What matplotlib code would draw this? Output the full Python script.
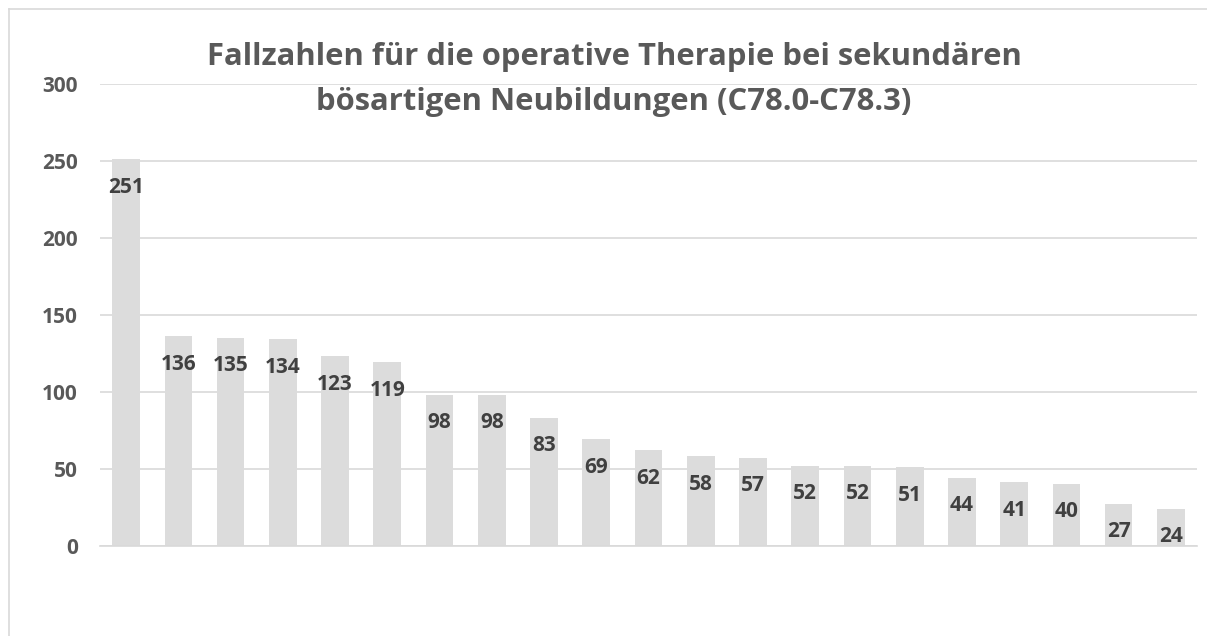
import numpy as np
import matplotlib.pyplot as plt
from matplotlib.lines import Line2D

# values, in bar order
werte = [251, 136, 135, 134, 123, 119, 98, 98, 83, 69, 62,
         58, 57, 52, 52, 51, 44, 41, 40, 27, 24]
y_ticks = [0, 50, 100, 150, 200, 250, 300]
titel_1 = "Fallzahlen für die operative Therapie bei sekundären"
titel_2 = "bösartigen Neubildungen (C78.0-C78.3)"

plt.rcParams['font.family'] = ['Open Sans', 'DejaVu Sans']

W, H = 1207, 636
fig = plt.figure(figsize=(W / 100, H / 100), dpi=100)
fig.patch.set_facecolor('white')

# axes placed in pixels
left, right, top0, bot0 = 100, 1197, 84, 545.5
ax = fig.add_axes([left / W, 1 - bot0 / H, (right - left) / W, (bot0 - top0) / H])

x = np.arange(len(werte))
ax.bar(x, werte, width=0.53, color='#dcdcdc', zorder=2)
ax.set_xlim(-0.5, len(werte) - 0.5)
ax.set_ylim(0, 300)
ax.set_yticks(y_ticks)
ax.set_yticklabels([str(t) for t in y_ticks], fontsize=15, fontweight='bold', color='#595959')
ax.tick_params(axis='y', length=0, pad=16)
ax.set_xticks([])
ax.grid(axis='y', color='#d9d9d9', linewidth=1.2, zorder=0)
for s in ['top', 'right', 'left']:
    ax.spines[s].set_visible(False)
ax.spines['bottom'].set_color('#d9d9d9')
ax.spines['bottom'].set_linewidth(1.2)

# data labels inside top of bars
for xi, v in zip(x, werte):
    ax.annotate(str(v), (xi, v), xytext=(0, -28), textcoords='offset pixels',
                ha='center', va='center', fontsize=15, fontweight='bold',
                color='#404040', zorder=3)

# title
fig.text(614 / W, 1 - 65 / H, titel_1, ha='center', va='baseline',
         fontsize=22.3, fontweight='bold', color='#595959')
fig.text(614 / W, 1 - 110 / H, titel_2, ha='center', va='baseline',
         fontsize=22.3, fontweight='bold', color='#595959')

# chart area border (only top and left visible)
fig.add_artist(Line2D([8.5 / W, 8.5 / W], [0, 1 - 9 / H], transform=fig.transFigure,
                      color='#d9d9d9', linewidth=1.2))
fig.add_artist(Line2D([8.5 / W, 1], [1 - 9 / H, 1 - 9 / H], transform=fig.transFigure,
                      color='#d9d9d9', linewidth=1.2))

fig.savefig('out.png', dpi=100)
